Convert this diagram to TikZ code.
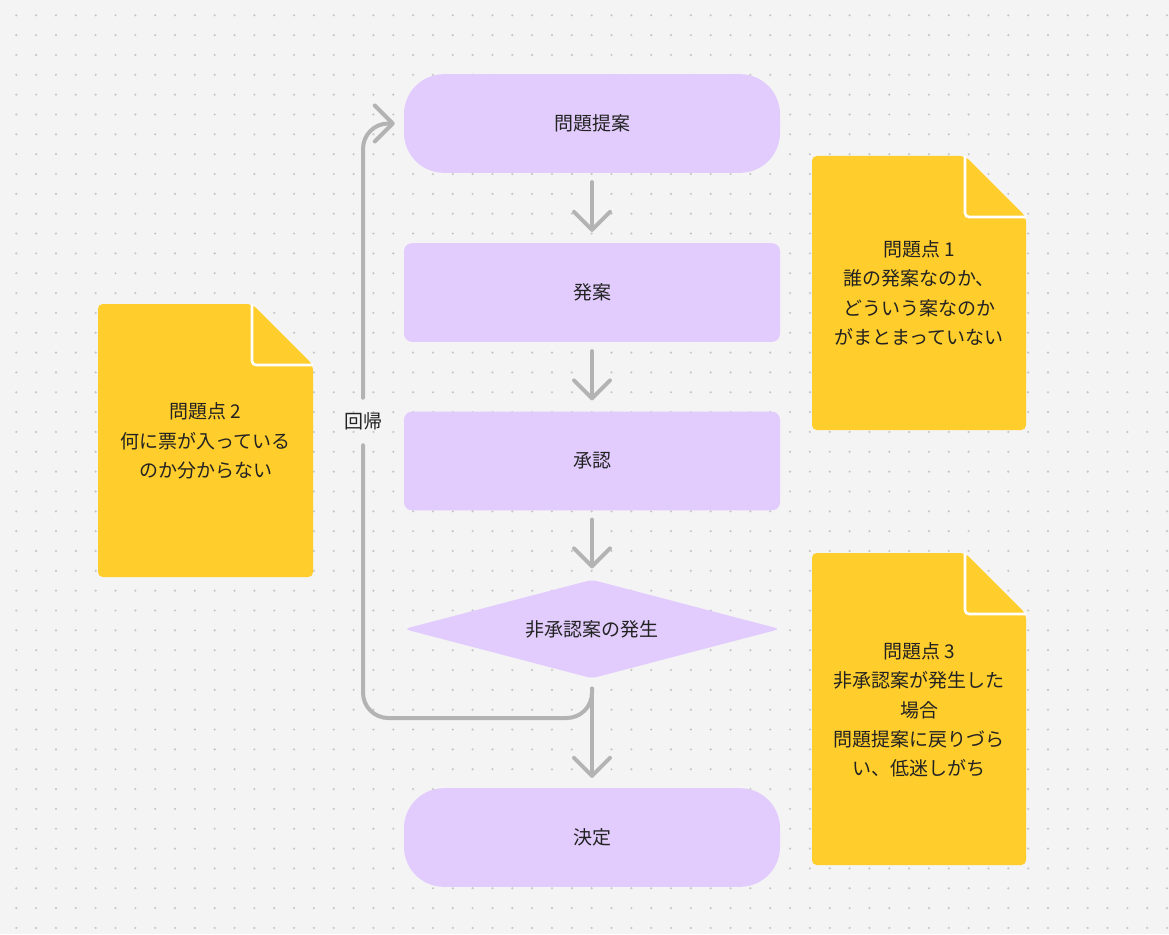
\documentclass[tikz,border=0pt]{standalone}
\usepackage{fontspec}
\setmainfont{Noto Sans CJK JP}
\usepackage{tikz}
\usetikzlibrary{arrows.meta}
\usetikzlibrary{shapes}
\usetikzlibrary{shapes.geometric}
\usetikzlibrary{calc}
\usetikzlibrary{positioning}
\definecolor{boardbg}{HTML}{F4F4F4}
\definecolor{dotgray}{HTML}{C6C6C6}
\definecolor{lavender}{HTML}{E2CCFD}
\definecolor{notefill}{HTML}{FFCD2C}
\definecolor{linegray}{HTML}{B3B3B3}
\definecolor{inkdark}{HTML}{222222}
\tikzset{
  flowtext/.style={text=inkdark, font=\fontsize{14.25}{22}\selectfont},
  terminal/.style={flowtext, fill=lavender, rectangle, rounded corners=30pt,
    minimum width=282pt, minimum height=74pt},
  process/.style={flowtext, fill=lavender, rectangle, rounded corners=6pt,
    minimum width=282pt, minimum height=74pt},
  decision/.style={flowtext, fill=lavender, diamond, rounded corners=4pt,
    minimum width=282pt, minimum height=74pt, inner sep=0pt, aspect=3.8},
  notetext/.style={flowtext, align=center},
  flowline/.style={draw=linegray, line width=3pt, line cap=round, rounded corners=19pt},
  flowarrow/.style={flowline, -{Straight Barb[length=13.5pt, width=27pt, line cap=round, line join=round]}},
}
\newcommand{\tikznote}[2] {
\fill[notefill, rounded corners=3.5pt] let \p1 = (#1),
                 \p2 = (#2) in
   (\x1,\y1) -- (\x2-45.75pt,\y1) -- (\x2,\y1-45.75pt) -- (\x2,\y2) -- (\x1,\y2) -- cycle;
\draw[white, line width=2pt, rounded corners=3pt] let \p1 = (#1),
                 \p2 = (#2) in
   (\x2-45.75pt,\y1) -- (\x2-45.75pt,\y1-45.75pt) -- (\x2,\y1-45.75pt);
}

\begin{document}
\begin{tikzpicture}[x=0.75pt, y=-0.75pt]
      % board and dot grid
      \fill[boardbg] (0, 0) rectangle (1169, 934);
      \foreach \i in {0,...,58}
        \foreach \j in {0,...,46}
          \fill[dotgray] (16.3+19.84*\i, 15.3+19.84*\j) circle (0.9pt);

      % flow
      \node[terminal] (teian) at (592, 123.5) {問題提案};
      \node[process] (hatsuan) at (592, 292.5) {発案};
      \node[process] (shounin) at (592, 461) {承認};
      \node[decision] (hishounin) at (592, 629) {非承認案の発生};
      \node[terminal] (kettei) at (592, 837.5) {決定};

      \draw[flowarrow, shorten <=6.75pt, shorten >=8.25pt] (teian.south) -- (hatsuan.north);
      \draw[flowarrow, shorten <=6.75pt, shorten >=8.25pt] (hatsuan.south) -- (shounin.north);
      \draw[flowarrow, shorten <=6.75pt, shorten >=8.25pt] (shounin.south) -- (hishounin.north);
      \draw[flowarrow, shorten <=7.5pt, shorten >=7.5pt] (hishounin.south) -- (kettei.north);

      % loop back
      \node[flowtext, inner sep=0pt, minimum height=35.25pt] (kaiki) at (363, 421.5) {回帰};
      \coordinate (loopcorner) at (363, 718);
      \draw[flowline] ([yshift=-7.5pt]hishounin.south) |- (loopcorner) -- (kaiki.south);
      \draw[flowarrow, shorten >=6.75pt] (kaiki.north) |- (teian.west);

      % notes
      \tikznote{812,156}{1026,430}
      \node[notetext] (note1) at (919, 293) {問題点 1\\誰の発案なのか、\\どういう案なのか\\がまとまっていない};
      \tikznote{98,304}{313,577}
      \node[notetext] (note2) at (205.5, 441) {問題点 2\\何に票が入っている\\のか分からない};
      \tikznote{812,553}{1026,865}
      \node[notetext] (note3) at (919, 710) {問題点 3\\非承認案が発生した\\場合\\問題提案に戻りづら\\い、低迷しがち};

    \end{tikzpicture}
\end{document}
